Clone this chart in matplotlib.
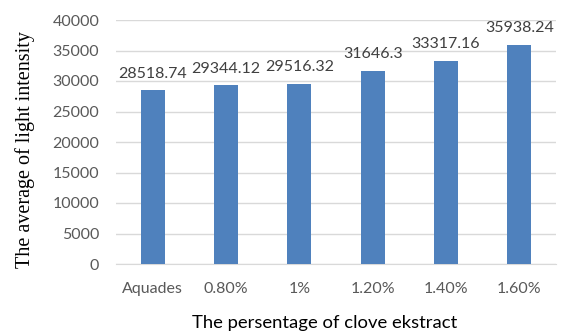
import matplotlib
matplotlib.use("Agg")
import matplotlib.pyplot as plt

categories = ["Aquades", "0.80%", "1%", "1.20%", "1.40%", "1.60%"]
values = [28518.74, 29344.12, 29516.32, 31646.3, 33317.16, 35938.24]
value_labels = ["28518.74", "29344.12", "29516.32", "31646.3", "33317.16", "35938.24"]
yticks = [0, 5000, 10000, 15000, 20000, 25000, 30000, 35000, 40000]

W, H = 568, 333
fig = plt.figure(figsize=(W/100, H/100), dpi=100)
ax = fig.add_axes([116/W, 1-264/H, 440/W, 244/H])

x = list(range(len(categories)))
bars = ax.bar(x, values, width=0.33, color="#4F81BD", zorder=3)
for xi, v, lab in zip(x, values, value_labels):
    ax.annotate(lab, (xi, v), xytext=(0, 9), textcoords="offset points",
                ha="center", va="baseline", fontsize=11.5,
                family="Lato", color="#404040")

ax.set_xlim(-0.5, len(categories) - 0.5)
ax.set_ylim(0, 40000)
ax.set_yticks(yticks)
ax.set_yticklabels([str(t) for t in yticks])
ax.set_xticks(x)
ax.set_xticklabels(categories)
for lab in ax.get_xticklabels() + ax.get_yticklabels():
    lab.set_family("Lato")
    lab.set_fontsize(11.5)
    lab.set_color("#595959")
ax.tick_params(axis="y", length=0, pad=12)
ax.tick_params(axis="x", length=0, pad=13)
ax.grid(axis="y", color="#D9D9D9", linewidth=1, zorder=0)
for s in ["top", "right", "left"]:
    ax.spines[s].set_visible(False)
ax.spines["bottom"].set_color("#D9D9D9")

fig.text(25/W, 1-150/H, "The average of light intensity", family="Liberation Serif",
         fontsize=14.5, color="black", rotation=90, ha="center", va="center")
fig.text(325/W, 1-328/H, "The persentage of clove ekstract", family="Lato",
         fontsize=13.3, color="black", ha="center", va="baseline")

fig.savefig("out.png", dpi=100)
